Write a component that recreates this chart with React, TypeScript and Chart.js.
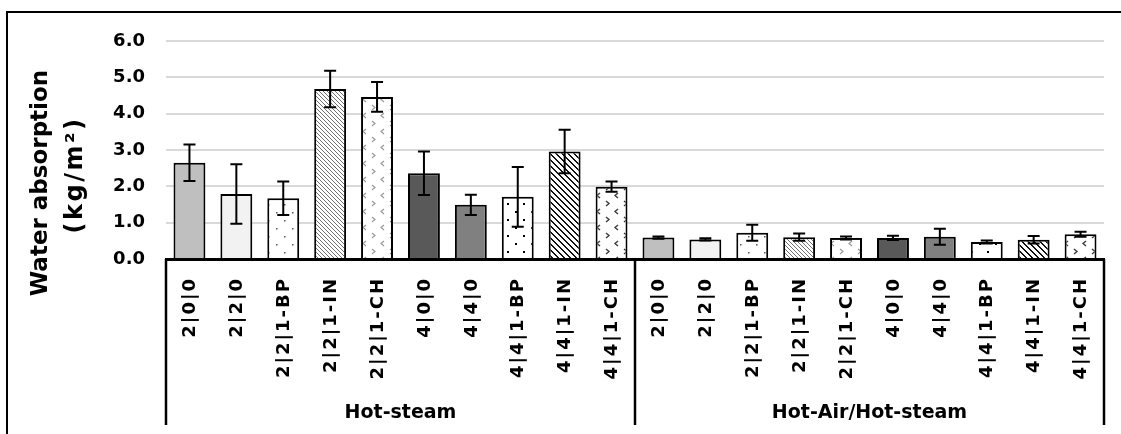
import React, { useEffect, useRef } from 'react';
import { Chart, registerables } from 'chart.js';

Chart.register(...registerables);

// Sample codes, shown once under each treatment group
const categories = ['2|0|0', '2|2|0', '2|2|1-BP', '2|2|1-IN', '2|2|1-CH', '4|0|0', '4|4|0', '4|4|1-BP', '4|4|1-IN', '4|4|1-CH'];
const groups = ['Hot-steam', 'Hot-Air/Hot-steam'];

// Mean water absorption (kg/m²) and standard deviation
const hotSteamMeans = [2.65, 1.79, 1.67, 4.68, 4.46, 2.36, 1.49, 1.71, 2.96, 1.99];
const hotSteamErrors = [0.5, 0.82, 0.46, 0.5, 0.41, 0.6, 0.28, 0.82, 0.6, 0.14];
const hotAirMeans = [0.59, 0.54, 0.72, 0.6, 0.58, 0.58, 0.61, 0.47, 0.53, 0.68];
const hotAirErrors = [0.03, 0.03, 0.22, 0.1, 0.04, 0.06, 0.22, 0.04, 0.1, 0.07];

const yMin = 0;
const yMax = 6;
const yStep = 1;

const FONT = "'DejaVu Sans', Verdana, sans-serif";

type Painter = (c: CanvasRenderingContext2D) => void;

function makePattern(w: number, h: number, paint: Painter): CanvasPattern | string {
  const cv = document.createElement('canvas');
  cv.width = w;
  cv.height = h;
  const c = cv.getContext('2d');
  if (!c) return '#ffffff';
  c.fillStyle = '#ffffff';
  c.fillRect(0, 0, w, h);
  paint(c);
  return c.createPattern(cv, 'repeat') || '#ffffff';
}

function buildFills(): (CanvasPattern | string)[] {
  const sparseDots = makePattern(16, 16, (c) => {
    c.fillStyle = '#555555';
    c.fillRect(4, 4, 1.5, 1.5);
    c.fillRect(12, 12, 1.5, 1.5);
  });
  const fineDiagonal = makePattern(4, 4, (c) => {
    c.fillStyle = '#707070';
    for (let i = 0; i < 4; i++) c.fillRect(i, i, 1, 1);
  });
  const chevron = (color: string, width: number): Painter => (c) => {
    c.strokeStyle = color;
    c.lineWidth = width;
    c.beginPath();
    c.moveTo(6, 1);
    c.lineTo(3, 3.5);
    c.lineTo(6, 6);
    c.moveTo(12, 9);
    c.lineTo(15, 11.5);
    c.lineTo(12, 14);
    c.stroke();
  };
  const lightChevron = makePattern(18, 16, chevron('#9a9a9a', 1.2));
  const bigDots = makePattern(16, 16, (c) => {
    c.fillStyle = '#000000';
    c.fillRect(3, 3, 2, 2);
    c.fillRect(11, 11, 2, 2);
  });
  const wideDiagonal = makePattern(6, 6, (c) => {
    c.fillStyle = '#111111';
    for (let i = 0; i < 6; i++) {
      c.fillRect(i, i, 1, 1);
      c.fillRect((i + 1) % 6, i, 1, 1);
    }
  });
  const darkChevron = makePattern(18, 16, chevron('#3a3a3a', 1.4));
  return [
    '#bfbfbf',
    '#f2f2f2',
    sparseDots,
    fineDiagonal,
    lightChevron,
    '#595959',
    '#808080',
    bigDots,
    wideDiagonal,
    darkChevron,
  ];
}

const values = [...hotSteamMeans, ...hotAirMeans];
const errors = [...hotSteamErrors, ...hotAirErrors];
const labels = [...categories, ...categories];

const errorBarPlugin = {
  id: 'errorBars',
  afterDatasetsDraw(chart: any) {
    const meta = chart.getDatasetMeta(0);
    const y = chart.scales.y;
    const ctx = chart.ctx as CanvasRenderingContext2D;
    ctx.save();
    ctx.strokeStyle = '#000000';
    ctx.lineWidth = 2;
    meta.data.forEach((bar: any, i: number) => {
      const top = y.getPixelForValue(values[i] + errors[i]);
      const bottom = y.getPixelForValue(values[i] - errors[i]);
      const cap = 6;
      ctx.beginPath();
      ctx.moveTo(bar.x, top);
      ctx.lineTo(bar.x, bottom);
      ctx.moveTo(bar.x - cap, top);
      ctx.lineTo(bar.x + cap, top);
      ctx.moveTo(bar.x - cap, bottom);
      ctx.lineTo(bar.x + cap, bottom);
      ctx.stroke();
    });
    ctx.restore();
  },
};

const framePlugin = {
  id: 'frame',
  afterDraw(chart: any) {
    const ctx = chart.ctx as any;
    const area = chart.chartArea;
    const x = chart.scales.x;
    ctx.save();
    // outer chart border
    ctx.strokeStyle = '#000000';
    ctx.lineWidth = 2;
    ctx.strokeRect(7, 12, chart.width + 20, chart.height + 20);

    // rotated category labels, reading upwards from below the axis
    ctx.fillStyle = '#000000';
    ctx.font = `bold 18px ${FONT}`;
    ctx.letterSpacing = '2px';
    ctx.textAlign = 'right';
    ctx.textBaseline = 'middle';
    labels.forEach((lab, i) => {
      const px = x.getPixelForTick(i);
      ctx.save();
      ctx.translate(px, area.bottom + 18);
      ctx.rotate(-Math.PI / 2);
      ctx.fillText(lab, 0, 1);
      ctx.restore();
    });
    ctx.letterSpacing = '0px';

    // group boxes under the category labels
    const step = (area.right - area.left) / labels.length;
    const boxBottom = 425;
    const dividers = [area.left, area.left + step * categories.length, area.right];
    ctx.lineWidth = 2.5;
    dividers.forEach((dx) => {
      ctx.beginPath();
      ctx.moveTo(Math.round(dx), area.bottom);
      ctx.lineTo(Math.round(dx), boxBottom);
      ctx.stroke();
    });

    ctx.font = `bold 19px ${FONT}`;
    ctx.textAlign = 'center';
    groups.forEach((g, gi) => {
      const cx = (dividers[gi] + dividers[gi + 1]) / 2;
      ctx.fillText(g, cx, 413);
    });

    // y-axis title
    ctx.translate(0, 183);
    ctx.rotate(-Math.PI / 2);
    ctx.font = `bold 23px ${FONT}`;
    ctx.fillText('Water absorption', 0, 41);
    ctx.font = `bold 24px ${FONT}`;
    ctx.letterSpacing = '2.5px';
    ctx.fillText('(kg/m²)', 8, 76);
    ctx.letterSpacing = '0px';
    ctx.restore();
  },
};

export default function App() {
  const canvasRef = useRef<HTMLCanvasElement | null>(null);

  useEffect(() => {
    const canvas = canvasRef.current;
    if (!canvas) return;
    const fills = buildFills();
    const chart = new Chart(canvas, {
      type: 'bar',
      data: {
        labels,
        datasets: [
          {
            data: values,
            backgroundColor: labels.map((_, i) => fills[i % fills.length]),
            borderColor: '#000000',
            borderWidth: 2,
            barPercentage: 0.68,
            categoryPercentage: 1,
          },
        ],
      },
      options: {
        responsive: false,
        animation: false,
        devicePixelRatio: 1,
        layout: { padding: { top: 41, right: 17, left: 0, bottom: 0 } },
        plugins: {
          legend: { display: false },
          tooltip: { enabled: false },
        },
        scales: {
          x: {
            grid: { display: false, drawTicks: false },
            border: { display: true, color: '#000000', width: 3 },
            ticks: { display: false, autoSkip: false },
            afterFit: (scale: any) => {
              scale.height = 175;
            },
          },
          y: {
            min: yMin,
            max: yMax,
            grid: { color: '#d9d9d9', lineWidth: 2, drawTicks: false },
            border: { display: false },
            ticks: {
              stepSize: yStep,
              padding: 21,
              color: '#000000',
              font: { family: FONT, weight: 'bold', size: 18 },
              callback: (v: any) => Number(v).toFixed(1),
            },
            afterFit: (scale: any) => {
              scale.width = 166;
            },
          },
        },
      },
      plugins: [errorBarPlugin, framePlugin],
    });
    return () => chart.destroy();
  }, []);

  return (
    <div style={{ position: 'absolute', left: 0, top: 0, width: 1121, height: 434, background: '#ffffff' }}>
      <canvas ref={canvasRef} width={1121} height={434} style={{ width: 1121, height: 434, display: 'block' }} />
    </div>
  );
}
